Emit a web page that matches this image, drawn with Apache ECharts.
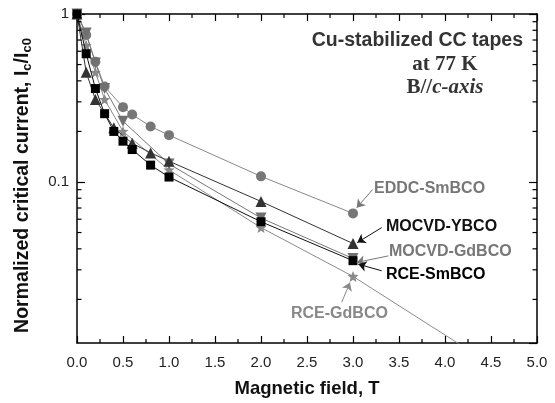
<!DOCTYPE html>
<html><head><meta charset="utf-8">
<script src="https://cdn.jsdelivr.net/npm/echarts@6/dist/echarts.min.js"></script>
<style>html,body{margin:0;padding:0;background:#fff}#c{width:555px;height:403px}</style>
</head><body><div id="c"></div>
<script>
// ---- data ----
const rceSmB = [0, 0.1, 0.2, 0.3, 0.4, 0.5, 0.6, 0.8, 1, 2, 3];
const rceSmV = [1, 0.58, 0.36, 0.255, 0.2, 0.175, 0.156, 0.126, 0.107, 0.058, 0.034];
const eddcB = [0, 0.1, 0.2, 0.3, 0.5, 0.6, 0.8, 1, 2, 3];
const eddcV = [1, 0.75, 0.52, 0.37, 0.279, 0.252, 0.214, 0.19, 0.108, 0.065];
const ybcoB = [0, 0.1, 0.2, 0.4, 0.6, 0.8, 1, 2, 3];
const ybcoV = [1, 0.45, 0.31, 0.21, 0.17, 0.149, 0.133, 0.0766, 0.043];
const mGdB = [0, 0.1, 0.2, 0.3, 0.5, 1, 2, 3];
const mGdV = [1, 0.77, 0.51, 0.36, 0.23, 0.128, 0.061, 0.035];
const rGdB = [0, 0.1, 0.2, 0.3, 0.5, 1, 2, 3, 5];
const rGdV = [1, 0.65, 0.45, 0.31, 0.2, 0.118, 0.0535, 0.0274, 0.0055];
const yMinorTicks = [0.02, 0.03, 0.04, 0.05, 0.06, 0.07, 0.08, 0.09, 0.2, 0.3, 0.4, 0.5, 0.6, 0.7, 0.8, 0.9];
const xMinorTicks = [0.25, 0.75, 1.25, 1.75, 2.25, 2.75, 3.25, 3.75, 4.25, 4.75];
const yMajorLabels = [1, 0.1];
// annotation arrows: [fromB, fromV, toB, toV, colour]
const arrowEddc = [3.214, 0.0902, 3.040, 0.0703, '#777'];
const arrowYbco = [3.312, 0.0535, 3.047, 0.0436, '#111'];
const arrowMGd = [3.384, 0.0363, 3.040, 0.0332, '#777'];
const arrowRSm = [3.312, 0.0296, 3.058, 0.0324, '#111'];
const arrowRGd = [2.877, 0.0192, 2.967, 0.0252, '#888'];

const zip = (a, b) => a.map((x, i) => [x, b[i]]);
const FONT = 'Liberation Sans, Arial, sans-serif';
const SERIF = 'Liberation Serif, Times New Roman, serif';
const starPath = 'path://M0,-10L2.6,-3.6L9.5,-3.1L4.2,1.4L5.9,8.1L0,4.4L-5.9,8.1L-4.2,1.4L-9.5,-3.1L-2.6,-3.6Z';

const chart = echarts.init(document.getElementById('c'), null, {renderer: 'canvas'});

function arrowItem(a) {
  return [{coord: [a[0], a[1]], lineStyle: {color: a[4], width: 1, type: 'solid'}, itemStyle: {color: a[4]}},
          {coord: [a[2], a[3]], lineStyle: {color: a[4]}, itemStyle: {color: a[4]}}];
}

const xAxisBase = {
  type: 'value', min: 0, max: 5, interval: 0.5,
  axisLine: {show: true, onZero: false, lineStyle: {color: '#000', width: 1.5}},
  axisTick: {show: true, inside: true, length: 7, lineStyle: {color: '#000', width: 1.2}},
  minorTick: {show: false},
  splitLine: {show: false}
};
const yAxisBase = {
  type: 'log', logBase: 10, min: 0.011, max: 1, splitNumber: 2,
  axisLine: {show: true, onZero: false, lineStyle: {color: '#000', width: 1.5}},
  axisTick: {show: true, inside: true, length: 8, lineStyle: {color: '#000', width: 1.2}},
  splitLine: {show: false}
};
function yLabelFmt(v) {
  for (const m of yMajorLabels) if (Math.abs(v - m) < 1e-9) return String(m);
  return '';
}

chart.setOption({
  animation: false,
  backgroundColor: '#fff',
  grid: {left: 77, right: 18, top: 14, bottom: 59, containLabel: false},
  xAxis: [
    Object.assign({}, xAxisBase, {
      position: 'bottom',
      axisLabel: {show: true, margin: 12, fontFamily: FONT, fontSize: 15, color: '#222', formatter: v => v.toFixed(1)},
      name: 'Magnetic field, T', nameLocation: 'middle', nameGap: 36,
      nameTextStyle: {fontFamily: FONT, fontSize: 18.5, fontWeight: 'bold', color: '#111'}
    }),
    Object.assign({}, xAxisBase, {position: 'top', axisLabel: {show: false}})
  ],
  yAxis: [
    Object.assign({}, yAxisBase, {
      position: 'left',
      axisLabel: {show: true, margin: 8, fontFamily: FONT, fontSize: 15, color: '#222', formatter: yLabelFmt, showMinLabel: false},
      name: '{a|Normalized critical current, I}{s|c}{a|/I}{s|c0}', nameLocation: 'middle', nameGap: 43, nameRotate: 90,
      nameTextStyle: {
        padding: [0, 14, 0, 0],
        rich: {
          a: {fontFamily: FONT, fontSize: 19.5, fontWeight: 'bold', color: '#111'},
          s: {fontFamily: FONT, fontSize: 13, fontWeight: 'bold', color: '#111', padding: [10, 0, 0, 0]}
        }
      }
    }),
    Object.assign({}, yAxisBase, {position: 'right', axisLabel: {show: false}})
  ],
  graphic: [
    {type: 'text', x: 523, y: 41, style: {text: 'Cu-stabilized CC tapes', font: 'bold 19.5px ' + FONT, fill: '#333', align: 'right', verticalAlign: 'middle'}},
    {type: 'text', x: 445, y: 65, style: {text: 'at 77 K', font: 'bold 21px ' + SERIF, fill: '#333', align: 'center', verticalAlign: 'middle'}},
    {type: 'text', x: 445, y: 88, style: {text: '{b|B//}{i|c-axis}', align: 'center', verticalAlign: 'middle',
      rich: {b: {font: 'bold 21px ' + SERIF, fill: '#333'}, i: {font: 'italic bold 21px ' + SERIF, fill: '#333'}}}},
    {type: 'text', x: 374, y: 189, style: {text: 'EDDC-SmBCO', font: 'bold 16px ' + FONT, fill: '#777', verticalAlign: 'middle'}},
    {type: 'text', x: 386, y: 227, style: {text: 'MOCVD-YBCO', font: 'bold 16px ' + FONT, fill: '#111', verticalAlign: 'middle'}},
    {type: 'text', x: 389, y: 251.5, style: {text: 'MOCVD-GdBCO', font: 'bold 16px ' + FONT, fill: '#777', verticalAlign: 'middle'}},
    {type: 'text', x: 386, y: 275, style: {text: 'RCE-SmBCO', font: 'bold 16px ' + FONT, fill: '#000', verticalAlign: 'middle'}},
    {type: 'text', x: 291, y: 314, style: {text: 'RCE-GdBCO', font: 'bold 16px ' + FONT, fill: '#888', verticalAlign: 'middle'}}
  ],
  series: [
    {
      name: 'y minor ticks', type: 'custom', xAxisIndex: 0, yAxisIndex: 0, silent: true, z: 5,
      data: yMinorTicks.map(v => [0, v]),
      renderItem: function (params, api) {
        const v = api.value(1);
        const pL = api.coord([0, v]);
        const pR = api.coord([5, v]);
        return {type: 'group', children: [
          {type: 'line', shape: {x1: pL[0], y1: pL[1], x2: pL[0] + 4.5, y2: pL[1]}, style: {stroke: '#000', lineWidth: 1.2}},
          {type: 'line', shape: {x1: pR[0] - 4.5, y1: pR[1], x2: pR[0], y2: pR[1]}, style: {stroke: '#000', lineWidth: 1.2}}
        ]};
      }
    },
    {
      name: 'x minor ticks', type: 'custom', xAxisIndex: 0, yAxisIndex: 0, silent: true, z: 5,
      data: xMinorTicks.map(b => [b, 1]),
      renderItem: function (params, api) {
        const b = api.value(0);
        const pT = api.coord([b, 1]);
        const pB = api.coord([b, 0.011]);
        return {type: 'group', children: [
          {type: 'line', shape: {x1: pT[0], y1: pT[1], x2: pT[0], y2: pT[1] + 4}, style: {stroke: '#000', lineWidth: 1.2}},
          {type: 'line', shape: {x1: pB[0], y1: pB[1] - 4, x2: pB[0], y2: pB[1]}, style: {stroke: '#000', lineWidth: 1.2}}
        ]};
      }
    },
    {
      name: 'RCE-GdBCO', type: 'line', data: zip(rGdB, rGdV), symbol: starPath, symbolSize: 11,
      lineStyle: {color: '#8a8a8a', width: 1}, itemStyle: {color: '#8a8a8a'}, clip: true, z: 2
    },
    {
      name: 'EDDC-SmBCO', type: 'line', data: zip(eddcB, eddcV), symbol: 'circle', symbolSize: 10,
      lineStyle: {color: '#888', width: 1}, itemStyle: {color: '#777'}, z: 2
    },
    {
      name: 'MOCVD-GdBCO', type: 'line', data: zip(mGdB, mGdV), symbol: 'triangle', symbolRotate: 180, symbolSize: 11,
      lineStyle: {color: '#777', width: 1}, itemStyle: {color: '#707070'}, z: 3
    },
    {
      name: 'MOCVD-YBCO', type: 'line', data: zip(ybcoB, ybcoV), symbol: 'triangle', symbolSize: 11,
      lineStyle: {color: '#333', width: 1}, itemStyle: {color: '#333'}, z: 3
    },
    {
      name: 'RCE-SmBCO', type: 'line', data: zip(rceSmB, rceSmV), symbol: 'rect', symbolSize: 9,
      lineStyle: {color: '#111', width: 1}, itemStyle: {color: '#000'}, z: 4,
      markLine: {
        silent: true, symbol: ['none', 'arrow'], symbolSize: 8, label: {show: false},
        emphasis: {disabled: true},
        data: [arrowItem(arrowEddc), arrowItem(arrowYbco), arrowItem(arrowMGd), arrowItem(arrowRSm), arrowItem(arrowRGd)]
      }
    }
  ]
});
</script>
</body></html>
